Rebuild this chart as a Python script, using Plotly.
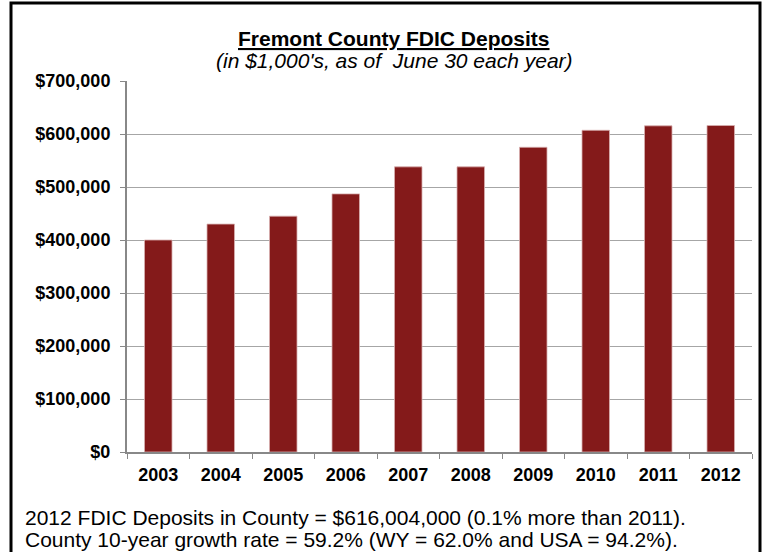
import plotly.graph_objects as go

years = ["2003", "2004", "2005", "2006", "2007", "2008", "2009", "2010", "2011", "2012"]
deposits = [400000, 430000, 445000, 487000, 538000, 538000, 575000, 607000, 615400, 616004]
y_ticks = [0, 100000, 200000, 300000, 400000, 500000, 600000, 700000]
y_tick_labels = ["$0", "$100,000", "$200,000", "$300,000", "$400,000",
                 "$500,000", "$600,000", "$700,000"]

title_text = "<b><u>Fremont County FDIC Deposits</u></b>"
subtitle_text = "<i>(in $1,000's, as of  June 30 each year)</i>"
note_lines = [
    "2012 FDIC Deposits in County = $616,004,000 (0.1% more than 2011).",
    "County 10-year growth rate = 59.2% (WY = 62.0% and USA = 94.2%).",
]

FONT = "Arial, 'Liberation Sans', sans-serif"

fig = go.Figure(
    go.Bar(
        x=years,
        y=deposits,
        marker=dict(color="#841a1a", line=dict(color="#d8b0b0", width=0.8)),
    )
)

W, H = 762, 552
ml, mr, mt, mb = 127, 10, 81, 100
pw, ph = W - ml - mr, H - mt - mb


def px(x):
    return (x - ml) / pw


def py(y):
    return (H - mb - y) / ph


annotations = [
    dict(
        text=title_text, xref="paper", yref="paper",
        x=px(394), y=py(38), xanchor="center", yanchor="middle",
        showarrow=False, font=dict(size=21, family=FONT),
    ),
    dict(
        text=subtitle_text, xref="paper", yref="paper",
        x=px(394), y=py(60), xanchor="center", yanchor="middle",
        showarrow=False, font=dict(size=21, family=FONT),
    ),
]
for i, line in enumerate(note_lines):
    annotations.append(
        dict(
            text=line, xref="paper", yref="paper",
            x=px(23), y=py(517 + 22 * i), xanchor="left", yanchor="middle", align="left",
            showarrow=False, font=dict(size=21, family=FONT),
        )
    )

fig.update_layout(
    width=W,
    height=H,
    margin=dict(l=ml, r=mr, t=mt, b=mb),
    paper_bgcolor="white",
    plot_bgcolor="white",
    bargap=0.56,
    showlegend=False,
    font=dict(family=FONT, color="black"),
    xaxis=dict(
        type="category",
        tickson="boundaries",
        ticks="outside",
        ticklen=5,
        tickcolor="#888888",
        showline=True,
        linecolor="#888888",
        linewidth=2,
        showgrid=False,
        ticklabelstandoff=5,
        tickfont=dict(size=18, family=FONT, weight="bold"),
    ),
    yaxis=dict(
        range=[0, 700000],
        tickvals=y_ticks,
        ticktext=y_tick_labels,
        ticks="outside",
        ticklen=5,
        tickcolor="#888888",
        showline=True,
        linecolor="#888888",
        linewidth=2,
        showgrid=True,
        gridcolor="#a6a6a6",
        gridwidth=1,
        zeroline=False,
        ticklabelstandoff=6,
        tickfont=dict(size=18, family=FONT, weight="bold"),
    ),
    annotations=annotations,
    shapes=[
        dict(
            type="rect", xref="paper", yref="paper",
            x0=px(11), x1=px(760), y0=py(570), y1=py(3),
            line=dict(color="black", width=3), fillcolor="rgba(0,0,0,0)",
            layer="above",
        )
    ],
)

fig.write_html(
    "out.html",
    config={"displayModeBar": False},
    post_script="document.body.style.margin='0';document.body.style.overflow='hidden';",
)
